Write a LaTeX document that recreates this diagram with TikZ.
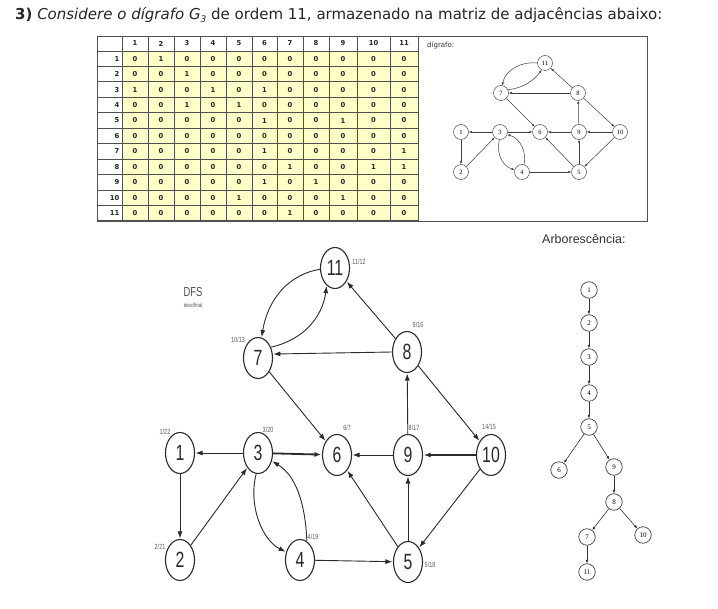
\documentclass[tikz,border=0pt]{standalone}
\usepackage{fontspec}
\setmainfont{DejaVu Sans}
\newfontfamily\arialfont{Liberation Sans}
\newfontfamily\condfont[FakeStretch=0.72]{Liberation Sans}
\newfontfamily\serifnum{Liberation Serif}
\usetikzlibrary{arrows.meta,shapes.geometric}
\definecolor{cellyellow}{HTML}{FFFFC8}
\definecolor{gridcol}{HTML}{505050}
\definecolor{ink}{HTML}{2A2A2A}
\tikzset{
  grid/.style={draw=gridcol, line width=0.9pt},
  tabtxt/.style={font=\fontsize{6.8}{7}\selectfont\bfseries, text=black!85, inner sep=0pt},
  bn/.style={draw=ink, line width=1.1pt, ellipse, minimum width=29pt, minimum height=41pt, inner sep=0pt, font=\condfont\fontsize{22}{22}\selectfont, text=ink},
  be/.style={draw=ink, line width=0.9pt, -{Latex[length=7pt,width=5pt]}, shorten >=0.5pt},
  bthick/.style={line width=1.8pt},
  tl/.style={font=\condfont\fontsize{7.5}{7.5}\selectfont, text=black!65, inner sep=0pt},
  sn/.style={draw=black!70, line width=0.5pt, circle, minimum size=15pt, inner sep=0pt, font=\serifnum\fontsize{6.5}{7}\selectfont},
  se/.style={draw=black!75, line width=0.5pt, -{Latex[length=3pt,width=2.4pt]}},
  an/.style={draw=black!75, line width=0.7pt, circle, minimum size=16.5pt, inner sep=0pt, font=\serifnum\fontsize{7}{7}\selectfont},
  ae/.style={draw=black!80, line width=0.6pt, -{Latex[length=3.5pt,width=2.8pt]}},
}
\begin{document}
\begin{tikzpicture}[x=1pt,y=-1pt]
\useasboundingbox (0,0) rectangle (718,609);
\fill[white] (0,0) rectangle (718,609);

% title
\node[anchor=base west, inner sep=0pt, font=\fontsize{15}{15}\selectfont, text=black!85] (title) at (15,19.5)
  {\textbf{3)} \textit{Considere o dígrafo G}\raisebox{-0.35ex}{\fontsize{9}{9}\selectfont\textit{3}} de ordem 11, armazenado na matriz de adjacências abaixo:};

% table background
\fill[cellyellow] (122,51) rectangle (418,221);
\foreach \x in {122,148,174,200,226,252,277,303,329,357,390}
  \draw[grid] (\x,36) -- (\x,221);
\foreach \k in {0,...,11}
  \draw[grid] (97,{51+15.45*\k}) -- (418,{51+15.45*\k});
\draw[grid] (97,36) rectangle (647,221);
\draw[grid] (418,36) -- (418,221);

\def\cxarr{{135,161,187,213,239,264.5,290,316,343,373.5,404}}
\foreach \c in {1,...,11}{
  \pgfmathsetmacro\xx{\cxarr[\c-1]}
  \node[tabtxt] (h\c) at (\xx,43.5) {\c};
}
\foreach \r/\row in {1/{0,1,0,0,0,0,0,0,0,0,0},
                     2/{0,0,1,0,0,0,0,0,0,0,0},
                     3/{1,0,0,1,0,1,0,0,0,0,0},
                     4/{0,0,1,0,1,0,0,0,0,0,0},
                     5/{0,0,0,0,0,1,0,0,1,0,0},
                     6/{0,0,0,0,0,0,0,0,0,0,0},
                     7/{0,0,0,0,0,1,0,0,0,0,1},
                     8/{0,0,0,0,0,0,1,0,0,1,1},
                     9/{0,0,0,0,0,1,0,1,0,0,0},
                     10/{0,0,0,0,1,0,0,0,1,0,0},
                     11/{0,0,0,0,0,0,1,0,0,0,0}}{
  \pgfmathsetmacro\yy{51+15.45*(\r-0.5)}
  \node[tabtxt, anchor=east] (r\r) at (119.5,\yy) {\r};
  \foreach \v [count=\c] in \row {
    \pgfmathsetmacro\xx{\cxarr[\c-1]}
    \node[tabtxt] (m\r-\c) at (\xx,\yy) {\v};
  }
}

% small digraph
\node[anchor=west, inner sep=0pt, font=\fontsize{7}{7}\selectfont, text=black!80] (dlab) at (427,45) {dígrafo:};
\node[sn] (s11) at (545,63) {11};
\node[sn] (s7) at (501,93) {7};
\node[sn] (s8) at (578,93) {8};
\node[sn] (s1) at (461,132) {1};
\node[sn] (s3) at (500,132) {3};
\node[sn] (s6) at (540,132) {6};
\node[sn] (s9) at (579,132) {9};
\node[sn] (s10) at (620,132) {10};
\node[sn] (s2) at (461,172) {2};
\node[sn] (s4) at (522,172) {4};
\node[sn] (s5) at (579,172) {5};
\draw[se] (s3) -- (s1);
\draw[se] (s1) -- (s2);
\draw[se] (s2) -- (s3);
\draw[se] (s3) -- (s6);
\draw[se] (s4) -- (s5);
\draw[se] (s5) -- (s6);
\draw[se] (s5) -- (s9);
\draw[se] (s9) -- (s6);
\draw[se] (s10) -- (s9);
\draw[se] (s10) -- (s5);
\draw[se] (s9) -- (s8);
\draw[se] (s8) -- (s10);
\draw[se] (s8) -- (s7);
\draw[se] (s8) -- (s11);
\draw[se] (s7) -- (s6);
\draw[se] (s11.180) .. controls (522,61) and (505,70) .. (s7.80);
\draw[se] (s7.25) .. controls (524,88) and (534,80) .. (s11.245);
\draw[se] (s3.265) .. controls (496,155) and (503,166) .. (s4.165);
\draw[se] (s4.75) .. controls (527,152) and (520,138) .. (s3.340);

% big graph
\node[font=\condfont\fontsize{13}{13}\selectfont, text=black!70, inner sep=0pt] (dfs) at (193,292) {DFS};
\node[font=\condfont\fontsize{6}{6}\selectfont, text=black!70, inner sep=0pt] (dfs2) at (193,305) {desc/final};

\node[bn] (n11) at (335,268) {11};
\node[bn] (n7) at (258,358) {7};
\node[bn] (n8) at (407,352) {8};
\node[bn] (n1) at (180,453) {1};
\node[bn] (n3) at (258,453) {3};
\node[bn] (n6) at (337,455) {6};
\node[bn] (n9) at (408,455) {9};
\node[bn] (n10) at (491,455) {10};
\node[bn] (n2) at (180,560) {2};
\node[bn] (n4) at (300,560) {4};
\node[bn] (n5) at (408,562) {5};

\node[tl] (l11) at (359,262) {11/12};
\node[tl] (l7) at (238,340) {10/13};
\node[tl] (l8) at (418,325) {9/16};
\node[tl] (l1) at (165,432) {1/22};
\node[tl] (l3) at (268,430) {3/20};
\node[tl] (l6) at (347,428) {6/7};
\node[tl] (l9) at (414,428) {8/17};
\node[tl] (l10) at (489,427) {14/15};
\node[tl] (l2) at (160,547) {2/21};
\node[tl] (l4) at (313,537) {4/19};
\node[tl] (l5) at (430,565) {5/18};

\draw[be] (n3) -- (n1);
\draw[be] (n1) -- (n2);
\draw[be] (n2) -- (n3);
\draw[be, bthick] (n3) -- (n6);
\draw[be] (n4) -- (n5);
\draw[be] (n5) -- (n6);
\draw[be] (n5) -- (n9);
\draw[be] (n9) -- (n6);
\draw[be, bthick] (n10) -- (n9);
\draw[be] (n10) -- (n5);
\draw[be] (n9) -- (n8);
\draw[be] (n8) -- (n10);
\draw[be] (n8.180) -- (n7.15);
\draw[be] (n8) -- (n11);
\draw[be] (n7) -- (n6);
\draw[be] (n11.185) .. controls (290,274) and (268,298) .. (n7.80);
\draw[be] (n7.40) .. controls (303,340) and (322,318) .. (n11.245);
\draw[be] (n3.265) .. controls (248,505) and (262,540) .. (n4.150);
\draw[be] (n4.70) .. controls (306,515) and (300,478) .. (n3.330);

% arborescence
\node[anchor=base west, inner sep=0pt, font=\arialfont\fontsize{12.5}{13}\selectfont, text=black!80] (arb) at (542,244) {Arborescência:};
\node[an] (a1) at (589,290) {1};
\node[an] (a2) at (589,323) {2};
\node[an] (a3) at (589,357) {3};
\node[an] (a4) at (589,393) {4};
\node[an] (a5) at (589,427) {5};
\node[an] (a6) at (559,470) {6};
\node[an] (a9) at (614,467) {9};
\node[an] (a8) at (614,502) {8};
\node[an] (a7) at (587,537) {7};
\node[an] (a10) at (643,535) {10};
\node[an] (a11) at (587,572) {11};
\draw[ae] (a1) -- (a2);
\draw[ae] (a2) -- (a3);
\draw[ae] (a3) -- (a4);
\draw[ae] (a4) -- (a5);
\draw[ae] (a5) -- (a6);
\draw[ae] (a5) -- (a9);
\draw[ae] (a9) -- (a8);
\draw[ae] (a8) -- (a7);
\draw[ae] (a8) -- (a10);
\draw[ae] (a7) -- (a11);
\end{tikzpicture}
\end{document}
